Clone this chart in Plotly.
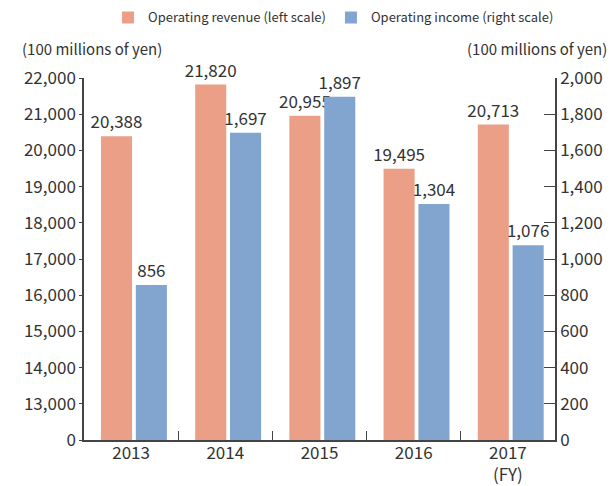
import plotly.graph_objects as go

years = ['2013', '2014', '2015', '2016', '2017<br>(FY)']
revenue = [20388, 21820, 20955, 19495, 20713]
income = [856, 1697, 1897, 1304, 1076]

left_ticks = [12000, 13000, 14000, 15000, 16000, 17000, 18000, 19000, 20000, 21000, 22000]
left_labels = ['0', '13,000', '14,000', '15,000', '16,000', '17,000',
               '18,000', '19,000', '20,000', '21,000', '22,000']

FONT = 'Noto Sans CJK JP, Noto Sans, sans-serif'
TXT = '#333333'

fig = go.Figure()
fig.add_trace(go.Bar(x=years, y=revenue, name='Operating revenue (left scale)',
                     marker=dict(color='#EC9F87', line=dict(width=0)),
                     width=0.33, offset=-0.32,
                     text=[f'{v:,}' for v in revenue], textposition='outside',
                     constraintext='none',
                     textfont=dict(size=17, color=TXT), cliponaxis=False))
fig.add_trace(go.Bar(x=years, y=income, name='Operating income (right scale)', yaxis='y2',
                     marker=dict(color='#82A5D0', line=dict(width=0)),
                     width=0.33, offset=0.05,
                     text=[f'{v:,}' for v in income], textposition='outside',
                     constraintext='none',
                     textfont=dict(size=17, color=TXT), cliponaxis=False))

fig.update_layout(
    width=612, height=486,
    margin=dict(l=84, r=57, t=78, b=46, autoexpand=False),
    paper_bgcolor='white', plot_bgcolor='white',
    font=dict(family=FONT, color=TXT),
    showlegend=True,
    legend=dict(orientation='h', x=0.545, xanchor='center', y=0.995, yanchor='top',
                yref='container', xref='container', font=dict(size=13, color=TXT),
                traceorder='normal', itemclick=False),
    xaxis=dict(showline=True, linecolor='#444', linewidth=1.5, ticks='inside',
               tickson='boundaries', ticklen=9, tickcolor='#444',
               tickfont=dict(size=17, color=TXT), showgrid=False, automargin=False,
               ticklabelstandoff=-3),
    yaxis=dict(range=[12000, 22000], tickvals=left_ticks, ticktext=left_labels,
               showline=True, linecolor='#444', linewidth=1.5, ticks='outside',
               ticklen=3, tickcolor='#444', tickfont=dict(size=17, color=TXT),
               showgrid=False, zeroline=False, automargin=False),
    yaxis2=dict(range=[0, 2000], dtick=200, tickformat=',', overlaying='y', side='right',
                showline=True, linecolor='#444', linewidth=1.5, ticks='inside',
                ticklen=11, tickcolor='#444', tickfont=dict(size=17, color=TXT),
                showgrid=False, zeroline=False, automargin=False),
)
# axis unit labels
fig.add_annotation(text='(100 millions of yen)', xref='paper', yref='paper',
                   x=-64 / 471, y=1 + 30 / 362, xanchor='left', yanchor='middle',
                   showarrow=False, font=dict(size=15, color=TXT))
fig.add_annotation(text='(100 millions of yen)', xref='paper', yref='paper',
                   x=1 + 54 / 471, y=1 + 30 / 362, xanchor='right', yanchor='middle',
                   showarrow=False, font=dict(size=15, color=TXT))

# drop the default page margin so the figure sits at the window corner
fig.write_html('out.html', config={'displayModeBar': False},
               post_script="document.body.style.margin='0';document.body.style.overflow='hidden';")
